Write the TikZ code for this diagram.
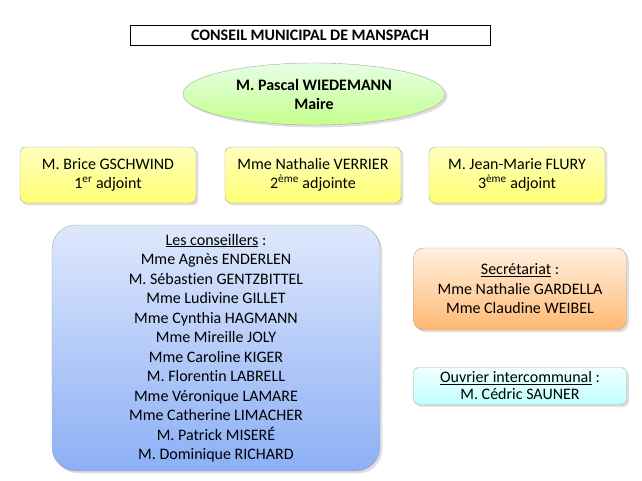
\documentclass[tikz,border=0pt]{standalone}
\usepackage{fontspec}
\setmainfont{Carlito}[Ligatures={NoCommon,NoRequired,NoContextual}]
\usetikzlibrary{positioning,shapes.geometric,shadows}
\definecolor{bleuhaut}{RGB}{222,232,252}
\definecolor{bleubas}{RGB}{140,175,245}

\begin{document}
\begin{tikzpicture}[
  x=1pt, y=-1pt,
  every node/.style={font=\fontsize{16}{19.5}\selectfont, align=center},
  title/.style={rectangle, draw, thick, minimum width=360pt, minimum height=20pt,
    inner sep=1pt, font=\fontsize{16}{17}\selectfont\bfseries},
  box/.style={rectangle, draw=black!35, rounded corners=6pt, drop shadow={opacity=.25}},
  adjoint/.style={box, top color=yellow!25, bottom color=yellow!55, minimum width=176pt, minimum height=56pt}
]
\useasboundingbox (0,0) rectangle (642,481);

\node (titre) [title] at (310,35) {CONSEIL MUNICIPAL DE MANSPACH};

\node (maire) [ellipse, draw=black!35, top color=green!10, bottom color=green!50!yellow!45,
  minimum width=262pt, minimum height=62pt, inner sep=1pt,
  font=\fontsize{16}{19}\selectfont\bfseries,
  drop shadow={opacity=.25}] at (314,94) {M. Pascal WIEDEMANN\\Maire};

\node (adj1) [adjoint] at (108,175) {M. Brice GSCHWIND\\1\textsuperscript{er} adjoint};
\node (adj2) [adjoint] at (313,175) {Mme Nathalie VERRIER\\2\textsuperscript{ème} adjointe};
\node (adj3) [adjoint] at (517,175) {M. Jean-Marie FLURY\\3\textsuperscript{ème} adjoint};

\node (conseil) [box, rounded corners=24pt, top color=bleuhaut, bottom color=bleubas,
  minimum width=328pt, minimum height=246pt] at (216,348)
  {\underline{Les conseillers} :\\
   Mme Agnès ENDERLEN\\
   M. Sébastien GENTZBITTEL\\
   Mme Ludivine GILLET\\
   Mme Cynthia HAGMANN\\
   Mme Mireille JOLY\\
   Mme Caroline KIGER\\
   M. Florentin LABRELL\\
   Mme Véronique LAMARE\\
   Mme Catherine LIMACHER\\
   M. Patrick MISERÉ\\
   M. Dominique RICHARD};

\node (secret) [box, rounded corners=10pt, top color=orange!12, bottom color=orange!55,
  minimum width=213pt, minimum height=82pt] at (520,289)
  {\underline{Secrétariat} :\\Mme Nathalie GARDELLA\\Mme Claudine WEIBEL};

\node (ouvrier) [box, rounded corners=5pt, top color=cyan!5, bottom color=cyan!25,
  minimum width=213pt, minimum height=37pt, inner sep=1pt,
  font=\fontsize{16}{17}\selectfont] at (520,386)
  {\underline{Ouvrier intercommunal} :\\M. Cédric SAUNER};
\end{tikzpicture}
\end{document}
